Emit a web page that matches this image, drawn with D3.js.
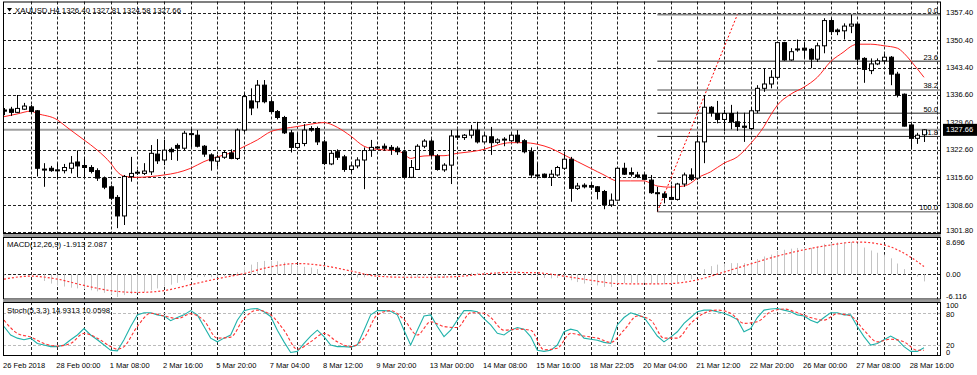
<!DOCTYPE html>
<html>
<head>
<meta charset="utf-8">
<script src="https://cdn.jsdelivr.net/npm/d3@7"></script>
<style>
  body { margin: 0; background: #fff; }
  svg text { font-family: "Liberation Sans", Arial, sans-serif; font-size: 7.5px; fill: #000; }
</style>
</head>
<body>
<svg id="chart" width="977" height="375"></svg>
<script>
// XAUUSD H4 candles, 26 Feb - 28 Mar 2018
const open = [1332.7,1332.9,1332.1,1332.9,1333.5,1332.5,1317.7,1317.9,1317.5,1317.3,1317.9,1319.5,1318.6,1318.1,1317.3,1315.4,1313.2,1310.5,1305.8,1315.8,
  1316.8,1316.6,1317.0,1321.5,1320.0,1322.7,1323.7,1323.0,1326.7,1326.3,1323.5,1321.3,1319.7,1320.7,1321.8,1320.4,1327.6,1335.0,1334.8,1339.0,
  1334.8,1332.3,1330.8,1326.9,1323.2,1324.2,1328.0,1328.0,1324.6,1319.0,1322.1,1320.8,1317.6,1318.5,1320.0,1322.5,1323.2,1323.5,1323.2,1323.0,
  1322.1,1315.6,1317.6,1323.5,1324.8,1321.0,1317.5,1318.7,1326.1,1325.7,1326.3,1327.6,1324.6,1325.9,1324.5,1325.2,1324.9,1326.3,1324.9,1322.1,
  1316.2,1316.4,1315.6,1316.2,1317.9,1320.2,1312.8,1313.6,1313.5,1313.2,1312.0,1308.6,1309.8,1317.9,1316.8,1316.2,1316.2,1314.9,1311.7,1311.4,
  1310.5,1310.0,1313.9,1316.2,1315.4,1324.6,1333.4,1331.8,1330.3,1331.8,1329.7,1328.6,1328.0,1332.5,1338.2,1339.3,1341.0,1349.8,1345.4,1348.1,
  1348.4,1348.1,1345.6,1349.0,1355.4,1353.0,1352.8,1354.0,1354.5,1345.8,1342.7,1344.4,1345.2,1346.1,1341.8,1336.7,1328.9,1325.5,1326.40];
const high = [1333.2,1333.5,1336.5,1334.5,1334.0,1332.7,1319.2,1318.5,1319.2,1319.0,1321.0,1322.4,1320.8,1318.7,1317.9,1315.8,1313.6,1311.1,1316.2,1320.8,
  1317.5,1319.2,1323.8,1325.3,1325.1,1323.2,1324.2,1327.4,1328.0,1327.6,1323.8,1321.7,1321.3,1322.4,1322.7,1328.0,1336.9,1338.2,1340.3,1340.3,
  1335.4,1332.7,1331.2,1327.6,1326.8,1329.1,1328.6,1328.5,1325.1,1322.5,1322.7,1321.3,1319.0,1320.7,1323.2,1325.1,1323.5,1324.2,1323.8,1323.5,
  1322.5,1320.0,1324.0,1325.3,1325.3,1321.5,1319.2,1327.6,1327.8,1326.6,1328.9,1329.7,1326.6,1328.4,1325.5,1325.8,1326.8,1327.6,1325.3,1323.2,
  1319.2,1316.6,1317.5,1318.5,1321.5,1320.8,1314.2,1314.1,1314.1,1313.4,1312.4,1311.5,1318.3,1319.3,1318.1,1317.0,1316.6,1316.2,1313.2,1312.0,
  1313.6,1314.2,1316.8,1317.9,1326.3,1336.5,1333.7,1335.0,1332.7,1334.0,1332.3,1332.0,1333.4,1339.0,1343.3,1342.8,1350.0,1350.0,1348.4,1350.6,
  1349.8,1348.4,1349.8,1356.0,1356.0,1353.4,1354.7,1356.9,1354.7,1346.1,1345.8,1345.8,1346.9,1346.4,1342.4,1336.9,1329.3,1326.9,1327.81];
const low = [1331.4,1331.2,1331.9,1332.7,1332.1,1315.8,1313.2,1317.0,1315.1,1316.6,1316.6,1315.6,1315.6,1316.6,1314.7,1312.6,1309.8,1302.7,1303.5,1314.5,
  1316.2,1316.2,1316.2,1319.0,1318.7,1320.0,1319.8,1322.5,1323.2,1323.2,1320.8,1317.3,1318.3,1320.3,1320.2,1320.0,1327.1,1331.4,1333.1,1334.4,
  1331.9,1330.3,1326.6,1321.9,1323.0,1323.5,1327.2,1323.8,1318.7,1318.7,1320.0,1317.0,1316.6,1317.9,1312.6,1320.8,1322.7,1322.4,1321.3,1321.3,
  1315.4,1315.4,1317.5,1323.0,1320.8,1317.3,1317.0,1313.9,1325.1,1325.1,1325.5,1324.2,1324.4,1321.3,1324.1,1323.5,1324.6,1324.2,1321.7,1315.4,
  1315.4,1315.4,1313.4,1315.8,1317.5,1309.4,1312.4,1312.8,1312.4,1310.0,1307.5,1308.1,1309.7,1316.2,1315.8,1315.4,1314.9,1311.4,1306.9,1309.0,
  1309.8,1309.7,1313.2,1314.7,1314.9,1319.2,1331.0,1329.3,1327.4,1327.8,1327.4,1324.6,1327.6,1331.9,1337.3,1338.2,1340.5,1345.2,1345.2,1347.5,
  1345.8,1343.3,1344.9,1347.1,1351.7,1351.7,1350.6,1352.2,1344.1,1339.6,1341.8,1344.1,1344.4,1339.0,1335.9,1328.5,1322.7,1324.1,1324.58];
const close = [1332.4,1332.1,1333.1,1333.7,1332.3,1317.9,1317.6,1317.3,1317.4,1318.1,1319.2,1318.5,1318.1,1317.1,1315.4,1313.1,1310.3,1305.8,1315.8,1316.6,
  1316.9,1317.2,1321.7,1319.8,1322.5,1322.1,1323.0,1326.8,1326.6,1323.5,1321.5,1319.8,1320.7,1321.9,1320.4,1327.6,1336.1,1333.2,1339.0,1334.8,
  1332.3,1330.8,1326.9,1323.2,1324.2,1327.6,1327.6,1324.6,1319.1,1321.7,1320.7,1317.6,1318.5,1320.0,1322.4,1323.2,1323.3,1323.0,1322.7,1322.1,
  1315.6,1318.1,1323.5,1324.8,1321.3,1317.6,1318.7,1326.1,1325.8,1326.3,1327.6,1324.6,1326.1,1324.4,1325.1,1325.3,1326.3,1324.6,1322.1,1316.2,
  1316.1,1315.6,1316.4,1318.1,1320.2,1312.8,1313.4,1313.2,1313.1,1312.0,1308.6,1309.8,1317.9,1316.4,1316.4,1315.8,1315.1,1311.7,1311.6,1310.5,
  1310.0,1313.9,1316.2,1315.1,1324.6,1333.4,1332.0,1330.3,1331.8,1329.7,1328.5,1328.3,1332.5,1338.2,1339.3,1341.0,1349.8,1345.4,1347.5,1348.2,
  1347.9,1345.6,1349.0,1355.4,1352.6,1352.6,1354.0,1354.5,1345.6,1343.0,1344.4,1345.2,1346.1,1341.8,1336.5,1328.6,1325.5,1326.3,1327.66];

// moving average, read at sampled bars
const maIdx = [0,2,4,5,8,9,10,12,14,16,17,18,20,22,24,26,28,30,32,34,36,38,40,42,44,46,48,49,50,52,54,56,58,59,60,61,62,64,66,68,70,72,74,76,78,80,82,84,86,88,90,92,94,96,97,98,100,102,103,104,106,108,110,112,114,115,116,118,120,122,124,126,127,128,130,132,134,135,136,138];
const maVal = [1331.0,1331.7,1332.4,1331.8,1330.2,1328.9,1327.6,1325.1,1322.5,1319.2,1317.0,1315.9,1315.6,1315.8,1316.2,1316.8,1317.9,1319.6,1320.8,1321.8,1323.4,1325.1,1327.2,1328.0,1328.5,1329.1,1329.5,1329.1,1328.3,1326.1,1323.5,1322.7,1322.5,1322.4,1321.5,1320.4,1320.8,1321.1,1321.1,1321.7,1322.1,1322.7,1323.8,1324.4,1324.4,1324.0,1323.0,1321.3,1319.6,1317.9,1316.2,1314.7,1314.7,1314.7,1314.1,1313.4,1313.1,1313.4,1314.1,1315.4,1317.0,1319.2,1320.8,1324.2,1328.5,1331.4,1333.9,1336.7,1338.5,1341.0,1345.0,1347.5,1348.8,1349.4,1349.4,1349.0,1348.4,1347.1,1345.2,1341.0];

// MACD(12,26,9)
const macdMain = [-0.3,-0.2,-0.1,0.0,0.1,-0.8,-1.8,-2.5,-3.0,-3.3,-3.6,-3.8,-4.0,-4.3,-4.6,-5.0,-5.5,-6.1,-5.6,-5.3,
  -5.0,-4.7,-4.3,-3.8,-3.3,-2.8,-2.3,-1.6,-1.1,-0.8,-0.7,-0.8,-0.7,-0.5,-0.3,0.6,2.0,2.6,3.3,3.6,
  3.6,3.5,3.2,2.7,2.3,2.0,1.8,1.4,0.6,0.2,-0.1,-0.5,-0.8,-0.9,-0.8,-0.6,-0.5,-0.4,-0.3,-0.3,
  -0.9,-1.1,-0.8,-0.5,-0.6,-0.9,-1.0,-0.3,0.0,0.2,0.4,0.4,0.5,0.5,0.6,0.6,0.7,0.7,0.5,-0.3,
  -0.7,-1.0,-1.1,-1.0,-0.8,-1.6,-2.1,-2.5,-2.8,-3.0,-3.4,-3.4,-2.6,-2.4,-2.3,-2.3,-2.3,-2.5,-2.6,-2.7,
  -2.6,-2.2,-1.6,-1.3,-0.1,1.4,2.2,2.6,2.9,3.0,3.0,3.0,3.3,4.1,4.8,5.3,6.3,6.6,6.9,7.1,
  7.2,7.1,7.4,8.2,8.5,8.6,8.7,8.7,8.3,7.2,6.4,5.8,5.3,4.3,2.9,1.4,0.3,-0.6,-1.913];
const sigIdx = [0,4,8,12,16,20,24,28,32,36,40,44,48,52,56,60,64,68,72,76,80,84,88,92,96,100,104,108,112,116,120,124,128,132,136,138];
const sigVal = [-1.3,-0.5,-1.3,-3.0,-4.4,-4.9,-4.4,-2.8,-1.2,0.2,2.0,2.9,2.3,0.9,-0.5,-0.8,-0.8,-0.6,0.1,0.5,0.4,-0.5,-1.6,-2.5,-2.6,-2.5,-1.5,0.6,2.8,4.9,6.6,7.9,8.69,7.9,4.6,2.087];

// Stochastic(5,3,3)
const stochK = [55,39,33,30,33,23,20,17,17,20,30,39,51,39,30,20,10,9,30,55,
  77,81,81,77,75,66,72,77,85,77,55,33,26,33,39,67,85,88,89,83,
  74,48,26,6,8,23,37,48,36,20,17,17,16,20,48,77,85,85,84,77,
  48,20,48,75,77,55,36,48,67,85,85,83,70,58,42,39,48,53,50,36,
  10,8,10,20,45,50,47,33,31,29,25,23,58,72,81,77,72,55,37,26,
  35,45,61,72,83,86,86,83,80,75,68,45,51,72,86,88,89,86,83,77,
  75,67,62,72,81,81,77,77,55,36,20,23,30,37,30,17,8,8,14.93];
const dIdx = [0,2,4,6,8,10,12,14,16,17,18,20,22,24,26,28,30,32,34,36,38,40,42,44,46,48,50,52,54,56,58,60,62,64,66,68,70,72,73,75,77,79,81,83,85,87,89,91,93,95,97,99,101,103,105,107,109,111,113,115,117,119,121,123,125,127,129,131,133,135,137,138];
const dVal = [67,42,35,23,18,23,42,33,17,12,17,55,80,75,70,79,66,33,35,70,86,77,48,12,26,42,26,17,33,77,85,68,39,64,55,53,81,80,72,48,50,48,11,14,42,37,33,25,48,75,67,33,33,61,80,86,80,61,64,83,88,81,72,67,79,75,48,26,31,26,10,10.06];

// axes
const priceTicks = [1357.40,1350.40,1343.40,1336.60,1329.60,1322.60,1315.60,1308.60,1301.80];
const macdTicks = [8.696, 0, -6.116];
const stochTicks = [100, 80, 20, 0];
const timeLabels = ["26 Feb 2018","28 Feb 00:00","1 Mar 08:00","2 Mar 16:00","5 Mar 20:00","7 Mar 04:00","8 Mar 12:00","9 Mar 20:00","13 Mar 00:00",
  "14 Mar 08:00","15 Mar 16:00","18 Mar 22:05","20 Mar 04:00","21 Mar 12:00","22 Mar 20:00","26 Mar 00:00","27 Mar 08:00","28 Mar 16:00"];

// fibonacci retracement
const fibLevels = [0, 23.6, 38.2, 50, 61.8, 100];
const fibHigh = 1356.9, fibLow = 1306.88, fibFrom = 98, fibTo = 110;
const lastPrice = 1327.66;

const svg = d3.select("#chart");
const L = 3, R = 941;
const main = {top: 1.5, bottom: 234};
const macdP = {top: 237, bottom: 299.5};
const stochP = {top: 302, bottom: 356};

const x = d3.scaleLinear().domain([0, 138]).range([4, 924]);
const y = d3.scaleLinear().domain([1301.80, 1357.40]).range([231.7, 12.7]);
const yM = d3.scaleLinear().domain([-6.116, 8.696]).range([297, 242]);
const yS = d3.scaleLinear().domain([0, 100]).range([355.6, 302.7]);
const px = v => Math.round(v) + 0.5;

// clip paths
const defs = svg.append("defs");
[["cMain", main], ["cMacd", macdP], ["cStoch", stochP]].forEach(([id, p]) => {
  defs.append("clipPath").attr("id", id).append("rect")
    .attr("x", L).attr("y", p.top).attr("width", R - L).attr("height", p.bottom - p.top);
});

// vertical grid in all panels
const gridIdx = d3.range(4, 141, 4);
[main, macdP, stochP].forEach(p => {
  svg.append("g").selectAll("line").data(gridIdx).join("line")
    .attr("x1", d => px(x(d))).attr("x2", d => px(x(d)))
    .attr("y1", p.top).attr("y2", p.bottom)
    .attr("stroke", "#222").attr("stroke-dasharray", "3,2");
});

// horizontal grid
svg.append("g").selectAll("line").data(priceTicks).join("line")
  .attr("x1", L).attr("x2", R)
  .attr("y1", d => px(y(d))).attr("y2", d => px(y(d)))
  .attr("stroke", "#222").attr("stroke-dasharray", "3,2");
svg.append("line").attr("x1", L).attr("x2", R).attr("y1", px(yM(0))).attr("y2", px(yM(0)))
  .attr("stroke", "#222").attr("stroke-dasharray", "3,2");
svg.append("g").selectAll("line").data([80, 20]).join("line")
  .attr("x1", L).attr("x2", R)
  .attr("y1", d => px(yS(d))).attr("y2", d => px(yS(d)))
  .attr("stroke", "#bbb").attr("stroke-dasharray", "3,2");

// price line
const gMain = svg.append("g").attr("clip-path", "url(#cMain)");
gMain.append("line").attr("x1", L).attr("x2", R).attr("y1", y(lastPrice)).attr("y2", y(lastPrice))
  .attr("stroke", "#a0a0a0").attr("stroke-width", 2);

// fibo levels
const fibPrice = l => fibHigh - (fibHigh - fibLow) * l / 100;
const greyLevel = d => d === 0 || d === 38.2 || d === 100;
gMain.append("g").selectAll("line").data(fibLevels).join("line")
  .attr("x1", x(fibFrom)).attr("x2", R)
  .attr("y1", d => y(fibPrice(d))).attr("y2", d => y(fibPrice(d)))
  .attr("stroke", d => greyLevel(d) ? "#888" : "#222")
  .attr("stroke-width", d => greyLevel(d) ? 1.6 : 1);
gMain.append("g").selectAll("text").data(fibLevels).join("text")
  .attr("x", 938).attr("y", d => y(fibPrice(d)) - 1.5)
  .attr("text-anchor", "end")
  .text(d => d.toFixed(1));
gMain.append("line")
  .attr("x1", x(fibFrom)).attr("y1", y(fibLow))
  .attr("x2", x(fibTo)).attr("y2", y(fibHigh))
  .attr("stroke", "#f00").attr("stroke-dasharray", "2,2");

// moving average
gMain.append("path").datum(maIdx)
  .attr("fill", "none").attr("stroke", "#f22").attr("stroke-width", 1)
  .attr("d", d3.line().x(d => x(d)).y((d, k) => y(maVal[k])).curve(d3.curveMonotoneX));

// candles
const bars = d3.range(open.length);
const cg = gMain.append("g").selectAll("g").data(bars).join("g");
cg.append("line")
  .attr("x1", i => px(x(i))).attr("x2", i => px(x(i)))
  .attr("y1", i => y(high[i])).attr("y2", i => y(low[i]))
  .attr("stroke", "#000");
cg.append("rect")
  .attr("x", i => Math.round(x(i)) - 1.5).attr("width", 4)
  .attr("y", i => y(Math.max(open[i], close[i])))
  .attr("height", i => Math.max(1, Math.abs(y(open[i]) - y(close[i]))))
  .attr("fill", i => close[i] >= open[i] ? "#fff" : "#000")
  .attr("stroke", "#000").attr("stroke-width", 1);

// MACD
const gMacd = svg.append("g").attr("clip-path", "url(#cMacd)");
gMacd.append("g").selectAll("line").data(bars).join("line")
  .attr("x1", i => px(x(i))).attr("x2", i => px(x(i)))
  .attr("y1", yM(0)).attr("y2", i => yM(macdMain[i]))
  .attr("stroke", "#c4c4c4");
gMacd.append("path").datum(sigIdx)
  .attr("fill", "none").attr("stroke", "#f33").attr("stroke-width", 1.2).attr("stroke-dasharray", "2,2")
  .attr("d", d3.line().x(d => x(d)).y((d, k) => yM(sigVal[k])).curve(d3.curveMonotoneX));

// Stochastic
const gSto = svg.append("g").attr("clip-path", "url(#cStoch)");
gSto.append("path").datum(bars)
  .attr("fill", "none").attr("stroke", "#20b2aa").attr("stroke-width", 1.1)
  .attr("d", d3.line().x(i => x(i)).y(i => yS(stochK[i])));
gSto.append("path").datum(dIdx)
  .attr("fill", "none").attr("stroke", "#f33").attr("stroke-width", 1.1).attr("stroke-dasharray", "3,2")
  .attr("d", d3.line().x(d => x(d)).y((d, k) => yS(dVal[k])).curve(d3.curveMonotoneX));

// frames and separators
[main, macdP, stochP].forEach(p => {
  svg.append("rect").attr("x", L + 0.5).attr("y", p.top + 0.5)
    .attr("width", R - L - 1).attr("height", p.bottom - p.top - 1)
    .attr("fill", "none").attr("stroke", "#000");
});
svg.append("rect").attr("x", L).attr("y", main.bottom).attr("width", R - L).attr("height", macdP.top - main.bottom).attr("fill", "#9a9a9a");
svg.append("rect").attr("x", L).attr("y", macdP.bottom).attr("width", R - L).attr("height", stochP.top - macdP.bottom).attr("fill", "#9a9a9a");

// right axis labels
const clampY = (v, p) => Math.max(p.top + 5, Math.min(p.bottom - 3.5, v));
svg.append("g").selectAll("text").data(priceTicks).join("text")
  .attr("x", 946).attr("y", d => clampY(y(d), main)).attr("dy", "0.35em").text(d => d.toFixed(2));
svg.append("g").selectAll("text").data(macdTicks).join("text")
  .attr("x", 946).attr("y", d => clampY(yM(d), macdP)).attr("dy", "0.35em")
  .text(d => d === 0 ? "0.00" : d.toFixed(3));
// 100 and 80 sit close together; nudge them apart
const stochLabelY = d => d === 100 ? 305.5 : d === 80 ? 314 : clampY(yS(d), stochP);
svg.append("g").selectAll("text").data(stochTicks).join("text")
  .attr("x", 946).attr("y", stochLabelY).attr("dy", "0.35em").text(d => d);

// last price box
svg.append("rect").attr("x", 943).attr("y", y(lastPrice) - 6).attr("width", 34).attr("height", 12).attr("fill", "#000");
svg.append("text").attr("x", 946).attr("y", y(lastPrice)).attr("dy", "0.35em")
  .style("fill", "#fff").text(lastPrice.toFixed(2));

// time axis
svg.append("g").selectAll("text").data(timeLabels).join("text")
  .attr("x", (d, k) => x(k * 8) - 1).attr("y", 368).text(d => d);

// titles
svg.append("path").attr("d", "M7,8 L12,8 L9.5,11.5 Z").attr("fill", "#000");
svg.append("text").attr("x", 15).attr("y", 12.5).style("font-size", "7.8px")
  .text("XAUUSD,H4  1326.40 1327.81 1324.58 1327.66");
svg.append("text").attr("x", 7).attr("y", 246.5).style("font-size", "7.8px")
  .text("MACD(12,26,9) -1.913 2.087");
svg.append("text").attr("x", 7).attr("y", 312.5).style("font-size", "7.8px")
  .text("Stoch(5,3,3) 14.9313 10.0598");
</script>
</body>
</html>
